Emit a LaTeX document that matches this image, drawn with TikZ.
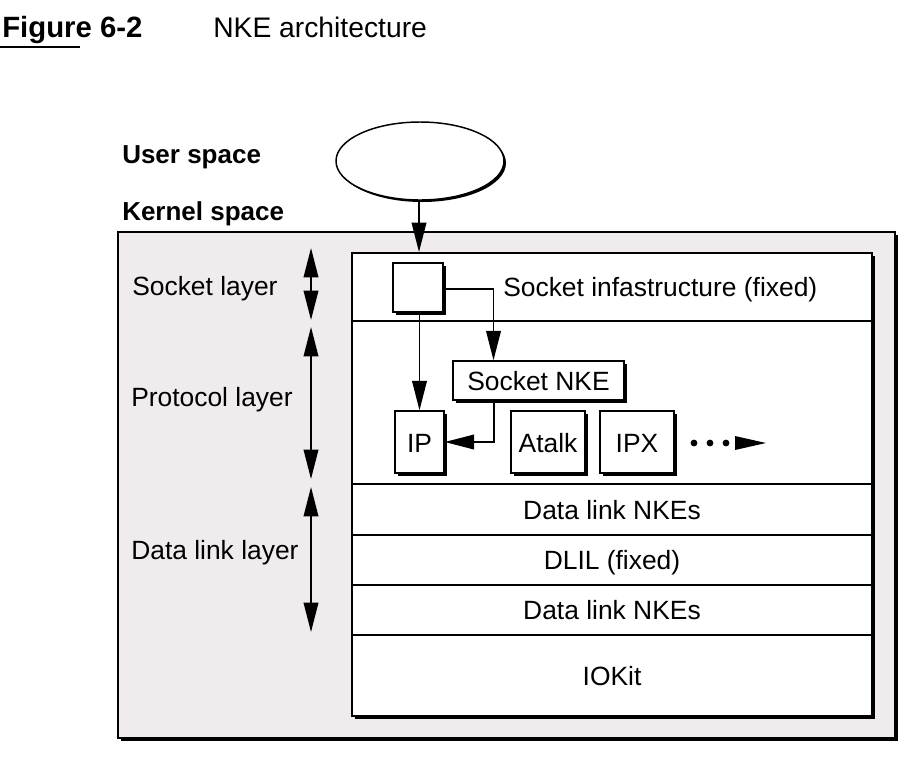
\documentclass[tikz,border=0pt]{standalone}
\usepackage{fontspec}
\setmainfont{Liberation Sans}
\usetikzlibrary{arrows.meta,shapes.geometric,shadows,calc}
\definecolor{kbg}{RGB}{240,236,237}
\begin{document}
\begin{tikzpicture}[x=0.75pt,y=-0.75pt,
  lbl/.style={font=\fontsize{19.8}{22}\selectfont, inner sep=0pt},
  blbl/.style={font=\fontsize{19.5}{22}\selectfont\bfseries, inner sep=0pt},
  shad/.style={drop shadow={shadow xshift=2.4pt, shadow yshift=-2.4pt, opacity=1, fill=black}},
  smallbox/.style={draw, line width=1.1pt, fill=white, shad, inner sep=0pt,
     font=\fontsize{19.8}{22}\selectfont},
  arr/.style={line width=1.1pt, -{Triangle[length=22pt,width=11pt]}},
  dbl/.style={line width=1.1pt, {Triangle[length=22pt,width=11pt]}-{Triangle[length=22pt,width=11pt]}},
  sep/.style={line width=1.6pt}]
\useasboundingbox (0,0) rectangle (914,758);

% title
\node[anchor=base west, inner sep=0pt, font=\fontsize{22}{26}\selectfont\bfseries] (fig) at (2,37) {Figure 6-2};
\node[anchor=base west, inner sep=0pt, font=\fontsize{21.2}{26}\selectfont] (ttl) at (213,37) {NKE architecture};
\draw[line width=2.2pt] (0,47) -- (80,47);

% user space / kernel space
\node[blbl, anchor=base west] (user) at (122,163) {User space};
\node[blbl, anchor=base west] (kern) at (122,220) {Kernel space};
\node[ellipse, draw, line width=1.1pt, fill=white, minimum width=126pt, minimum height=58.5pt,
      drop shadow={shadow xshift=1.5pt, shadow yshift=-1.5pt, opacity=1, fill=black}] (ell) at (420,161) {};

% kernel box
\node[draw, line width=1.1pt, fill=kbg, shad, minimum width=582.75pt, minimum height=379.5pt, inner sep=0pt] (kernel) at (506.5,485) {};
% stack box
\node[draw, line width=1.6pt, fill=white, shad, minimum width=390pt, minimum height=347.25pt, inner sep=0pt] (stack) at (612,484.5) {};

% separators
\draw[sep] (stack.west |- 0,321) -- (stack.east |- 0,321);
\draw[sep] (stack.west |- 0,484) -- (stack.east |- 0,484);
\draw[sep] (stack.west |- 0,535) -- (stack.east |- 0,535);
\draw[sep] (stack.west |- 0,585) -- (stack.east |- 0,585);
\draw[sep] (stack.west |- 0,635) -- (stack.east |- 0,635);

% layer texts
\node[lbl, anchor=base west] (sinf) at (503,296) {Socket infastructure (fixed)};
\node[lbl, anchor=base] (dln1) at (612,519) {Data link NKEs};
\node[lbl, anchor=base] (dlil) at (612,569.5) {DLIL (fixed)};
\node[lbl, anchor=base] (dln2) at (612,619.5) {Data link NKEs};
\node[lbl, anchor=base] (iokit) at (612,685.5) {IOKit};

% left labels
\node[lbl, anchor=base west] (sockl) at (132,295) {Socket layer};
\node[lbl, anchor=base west] (protl) at (131,406) {Protocol layer};
\node[lbl, anchor=base west] (datal) at (131,559) {Data link layer};

\coordinate (s1) at (311,248); \coordinate (s2) at (311,320);
\coordinate (p1) at (311,327); \coordinate (p2) at (311,479);
\coordinate (d1) at (311,487); \coordinate (d2) at (311,632);
\draw[dbl] (s1) -- (s2);
\draw[dbl] (p1) -- (p2);
\draw[dbl] (d1) -- (d2);

% boxes
\node[smallbox, minimum width=37.5pt, minimum height=36.75pt] (sq) at (418,287.5) {};
\node[smallbox, minimum width=128.25pt, minimum height=29.25pt] (snke) at (538.5,380.5) {};
\node[lbl, anchor=base] (snket) at (538.5,390.5) {Socket NKE};
\node[smallbox, minimum width=36.75pt, minimum height=46.5pt] (ip) at (419.5,442) {};
\node[lbl, anchor=base] at (ip.center |- 0,452) {IP};
\node[smallbox, minimum width=55.5pt, minimum height=46.5pt] (atalk) at (548,442) {};
\node[lbl, anchor=base] at (atalk.center |- 0,452) {Atalk};
\node[smallbox, minimum width=55.5pt, minimum height=46.5pt] (ipx) at (637,442) {};
\node[lbl, anchor=base] at (ipx.center |- 0,452) {IPX};

% connectors
\draw[arr] (ell.south -| 419,0) -- (419,252);
\draw[arr] (ip.north |- sq.south) -- (ip.north);
\draw[arr] (sq.east |- 0,289) -| ($(snke.north)+(-45,0)$);
\draw[arr] ($(snke.south)+(-44.5,0)$) |- (ip.east);

% dots and arrow head
\fill (694,443) circle[radius=3.4];
\fill (710,443) circle[radius=3.4];
\fill (726,443) circle[radius=3.4];
\fill (735,436) -- (766,443) -- (735,450) -- cycle;
\end{tikzpicture}
\end{document}
